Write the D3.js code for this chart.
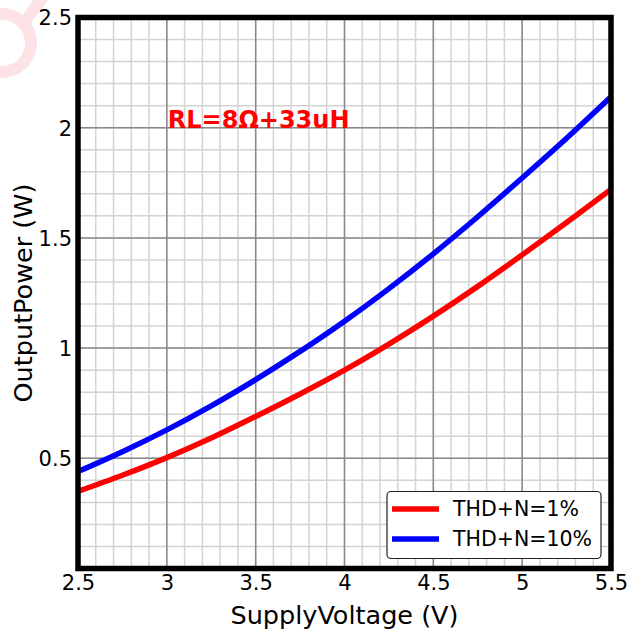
<!DOCTYPE html>
<html><head><meta charset="utf-8">
<script src="https://cdn.jsdelivr.net/npm/d3@7"></script>
<style>html,body{margin:0;padding:0;background:#fff;}svg{display:block;font-family:"DejaVu Sans",sans-serif;}</style>
</head><body>
<svg id="c" width="640" height="635"></svg>
<script>
const voltage = [2.5, 2.75, 3.0, 3.25, 3.5, 3.75, 4.0, 4.25, 4.5, 4.75, 5.0, 5.25, 5.5];
const thd1 = [0.35, 0.423, 0.503, 0.592, 0.69, 0.792, 0.90, 1.018, 1.145, 1.28, 1.423, 1.57, 1.72];
const thd10 = [0.44, 0.53, 0.629, 0.738, 0.857, 0.985, 1.122, 1.27, 1.428, 1.596, 1.772, 1.952, 2.14];
const seriesNames = ["THD+N=1%", "THD+N=10%"];
const seriesColors = ["#ff0000", "#0000ff"];
const xTicks = [2.5, 3, 3.5, 4, 4.5, 5, 5.5];
const xTickLabels = ["2.5", "3", "3.5", "4", "4.5", "5", "5.5"];
const yTicks = [0.5, 1, 1.5, 2, 2.5];
const yTickLabels = ["0.5", "1", "1.5", "2", "2.5"];
const xTitle = "SupplyVoltage (V)";
const yTitle = "OutputPower (W)";
const note = "RL=8Ω+33uH";

const svg = d3.select("#c");
const L = 78, R = 611, T = 17.5, B = 568.5;
const x = d3.scaleLinear().domain([2.5, 5.5]).range([L, R]);
const y = d3.scaleLinear().domain([0, 2.5]).range([B, T]);

// watermark
svg.append("circle").attr("cx", 2).attr("cy", 43).attr("r", 29)
  .attr("fill", "none").attr("stroke", "#fde2e6").attr("stroke-width", 12);
svg.append("line").attr("x1", 26).attr("y1", 20).attr("x2", 44).attr("y2", -4)
  .attr("stroke", "#fde2e6").attr("stroke-width", 12);

// grid
const g = svg.append("g");
const minorX = d3.range(25, 56).map(v => v / 10);
const minorY = d3.range(0, 26).map(v => v / 10);
g.selectAll(".mx").data(minorX).join("line")
  .attr("x1", d => x(d)).attr("x2", d => x(d)).attr("y1", T).attr("y2", B)
  .attr("stroke", "#d4d4d4").attr("stroke-width", 1.5);
g.selectAll(".my").data(minorY).join("line")
  .attr("y1", d => y(d)).attr("y2", d => y(d)).attr("x1", L).attr("x2", R)
  .attr("stroke", "#d4d4d4").attr("stroke-width", 1.5);
g.selectAll(".Mx").data(xTicks).join("line")
  .attr("x1", d => x(d)).attr("x2", d => x(d)).attr("y1", T).attr("y2", B)
  .attr("stroke", "#8a8a8a").attr("stroke-width", 1.5);
g.selectAll(".My").data(yTicks).join("line")
  .attr("y1", d => y(d)).attr("y2", d => y(d)).attr("x1", L).attr("x2", R)
  .attr("stroke", "#8a8a8a").attr("stroke-width", 1.5);

// curves
const line = d3.line().x(d => x(d[0])).y(d => y(d[1])).curve(d3.curveCatmullRom);
[thd1, thd10].forEach((s, i) => {
  svg.append("path").datum(voltage.map((v, j) => [v, s[j]]))
    .attr("d", line).attr("fill", "none")
    .attr("stroke", seriesColors[i]).attr("stroke-width", 5.5)
    .attr("stroke-linejoin", "round");
});

// frame
svg.append("rect").attr("x", L).attr("y", T).attr("width", R - L).attr("height", B - T)
  .attr("fill", "none").attr("stroke", "#000").attr("stroke-width", 5.5);

// axes tick labels
const xa = d3.axisBottom(x).tickValues(xTicks).tickFormat((d, i) => xTickLabels[i]).tickSize(0).tickPadding(0);
const xg = svg.append("g").attr("transform", `translate(0,${B})`).call(xa);
xg.select(".domain").remove();
xg.selectAll("text").attr("y", 21).attr("dy", 0).attr("font-size", 21)
  .attr("font-family", "DejaVu Sans").attr("fill", "#000");
const ya = d3.axisLeft(y).tickValues(yTicks).tickFormat((d, i) => yTickLabels[i]).tickSize(0).tickPadding(0);
const yg = svg.append("g").attr("transform", `translate(72,0)`).call(ya);
yg.select(".domain").remove();
yg.selectAll("text").attr("x", 0).attr("dy", "0.35em").attr("font-size", 21)
  .attr("font-family", "DejaVu Sans").attr("fill", "#000");

// titles
svg.append("text").attr("x", (L + R) / 2).attr("y", 624).attr("text-anchor", "middle")
  .attr("font-size", 25.5).text(xTitle);
svg.append("text").attr("transform", `translate(32,${(T + B) / 2}) rotate(-90)`)
  .attr("text-anchor", "middle").attr("font-size", 25.5).text(yTitle);

// annotation
svg.append("text").attr("x", x(3.0) + 1).attr("y", y(2.0)).attr("font-size", 24)
  .attr("font-weight", "bold").attr("fill", "#ff0000").text(note);

// legend
const lg = svg.append("g");
lg.append("rect").attr("x", 387).attr("y", 491.5).attr("width", 214).attr("height", 67)
  .attr("rx", 4).attr("fill", "#fff").attr("stroke", "#222").attr("stroke-width", 1.2);
seriesNames.forEach((n, i) => {
  const yy = 509 + i * 30;
  lg.append("line").attr("x1", 392).attr("x2", 439).attr("y1", yy).attr("y2", yy)
    .attr("stroke", seriesColors[i]).attr("stroke-width", 5.5);
  lg.append("text").attr("x", 453).attr("y", yy + 7).attr("font-size", 20.5).text(n);
});
</script>
</body></html>
